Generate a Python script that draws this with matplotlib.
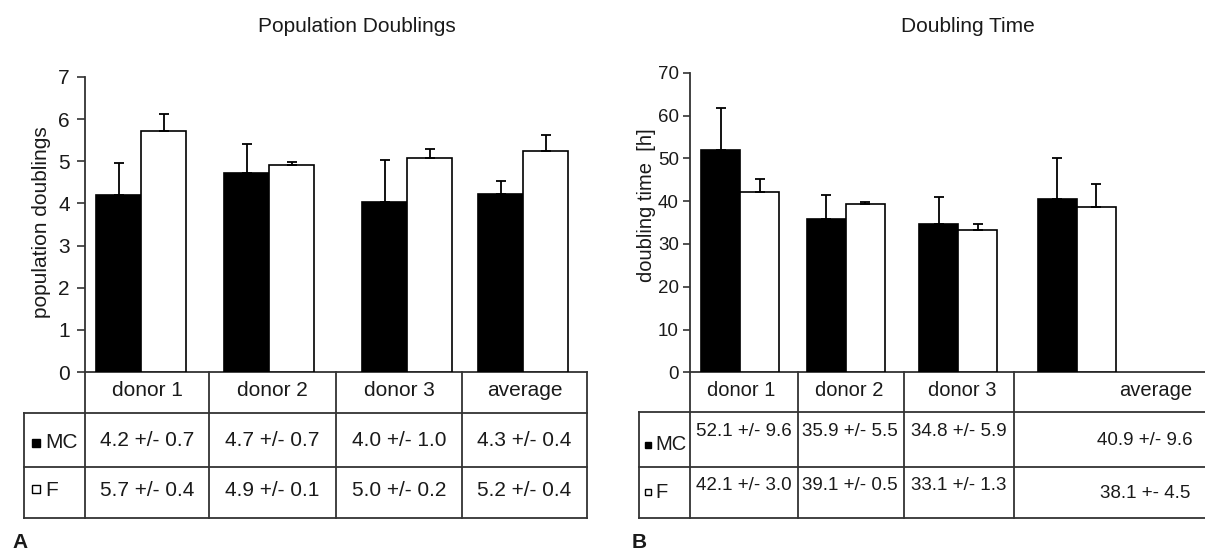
import matplotlib
matplotlib.use("Agg")
import matplotlib.pyplot as plt
import numpy as np

plt.rcParams['font.family'] = ['Liberation Sans', 'DejaVu Sans']

# data
groups = ['donor 1', 'donor 2', 'donor 3', 'average']

pd_mc = [4.2, 4.72, 4.03, 4.22]
pd_mc_err = [0.77, 0.70, 1.0, 0.32]
pd_f = [5.72, 4.91, 5.08, 5.25]
pd_f_err = [0.40, 0.07, 0.20, 0.37]
pd_mc_txt = ['4.2 +/- 0.7', '4.7 +/- 0.7', '4.0 +/- 1.0', '4.3 +/- 0.4']
pd_f_txt = ['5.7 +/- 0.4', '4.9 +/- 0.1', '5.0 +/- 0.2', '5.2 +/- 0.4']

dt_mc = [51.9, 35.9, 34.7, 40.4]
dt_mc_err = [9.8, 5.6, 6.2, 9.6]
dt_f = [42.05, 39.25, 33.2, 38.7]
dt_f_err = [3.0, 0.5, 1.4, 5.2]
dt_mc_txt = ['52.1 +/- 9.6', '35.9 +/- 5.5', '34.8 +/- 5.9', '40.9 +/- 9.6']
dt_f_txt = ['42.1 +/- 3.0', '39.1 +/- 0.5', '33.1 +/- 1.3', '38.1 +- 4.5']

W, H = 1205, 551
TXT = '#1a1a1a'
LN = '#333333'

fig = plt.figure(figsize=(W / 100, H / 100), dpi=100)

# overlay in pixel coords for the tables and loose text
ov = fig.add_axes([0, 0, 1, 1])
ov.set_xlim(0, W)
ov.set_ylim(H, 0)
ov.axis('off')


def line(x0, y0, x1, y1):
    ov.plot([x0, x1], [y0, y1], color=LN, lw=1.3, solid_capstyle='projecting')


def bar_panel(left, right, top, bottom, ymax, ticks, mc, mc_err, f, f_err,
              centers, bw, fs, tlen, tpad):
    ax = fig.add_axes([left / W, (H - bottom) / H, (right - left) / W, (bottom - top) / H])
    ax.set_xlim(0, right - left)
    ax.set_ylim(0, ymax)
    c = np.array(centers)
    ax.bar(c - bw / 2, mc, bw, color='black', edgecolor='black', lw=1.2)
    ax.bar(c + bw / 2, f, bw, color='white', edgecolor='black', lw=1.2)
    ax.errorbar(c - bw / 2, mc, yerr=[np.zeros(4), mc_err], fmt='none',
                ecolor='black', elinewidth=1.3, capsize=3.5, capthick=1.3)
    ax.errorbar(c + bw / 2, f, yerr=[np.zeros(4), f_err], fmt='none',
                ecolor='black', elinewidth=1.3, capsize=3.5, capthick=1.3)
    for s in ['top', 'right', 'bottom']:
        ax.spines[s].set_visible(False)
    ax.spines['left'].set_color(LN)
    ax.spines['left'].set_linewidth(1.3)
    ax.set_xticks([])
    ax.set_yticks(ticks)
    ax.tick_params(axis='y', labelsize=fs, length=tlen, pad=tpad, width=1.2,
                   color=LN, labelcolor=TXT)
    ax.patch.set_alpha(0)
    return ax


# panel A
axA = bar_panel(85, 587, 77, 372, 7, range(0, 8), pd_mc, pd_mc_err, pd_f, pd_f_err,
                [56, 184, 322, 438], 45, 15, 6, 5)
# panel B
axB = bar_panel(690, 1205, 72.7, 372.3, 70, range(0, 80, 10), dt_mc, dt_mc_err, dt_f, dt_f_err,
                [50.3, 155.7, 268.3, 386.7], 39, 13.5, 5, 3)

# titles, y labels, panel letters
ov.text(357, 27, 'Population Doublings', fontsize=15, color=TXT, ha='center', va='center')
ov.text(968, 27, 'Doubling Time', fontsize=15, color=TXT, ha='center', va='center')
ov.text(42, 222, 'population doublings', fontsize=15, color=TXT, rotation=90,
        ha='center', va='center')
ov.text(646, 205, 'doubling time  [h]', fontsize=14.5, color=TXT, rotation=90,
        ha='center', va='center')
ov.text(12, 543, 'A', fontsize=15, fontweight='bold', color=TXT, va='center')
ov.text(632, 543, 'B', fontsize=15, fontweight='bold', color=TXT, va='center')

# table A
cols = [85, 209, 336, 462, 587]
rows = [372, 412.7, 467.3, 517.7]
line(cols[0], rows[0], cols[-1], rows[0])
for y in rows[1:]:
    line(24, y, cols[-1], y)
for x in cols:
    line(x, rows[0], x, rows[-1])
line(24, rows[1], 24, rows[-1])
for i in range(4):
    cx = (cols[i] + cols[i + 1]) / 2
    ov.text(cx, 391, groups[i], fontsize=15, color=TXT, ha='center', va='center')
    ov.text(cx, 440, pd_mc_txt[i], fontsize=15, color=TXT, ha='center', va='center')
    ov.text(cx, 491, pd_f_txt[i], fontsize=15, color=TXT, ha='center', va='center')
ov.plot(35.5, 442.5, 's', ms=5.5, mfc='black', mec='black')
ov.plot(35.5, 489, 's', ms=5.5, mfc='white', mec='black', mew=1)
ov.text(45, 443, 'MC', fontsize=15, color=TXT, va='center')
ov.text(45, 491, 'F', fontsize=15, color=TXT, va='center')

# table B
colsB = [690, 797.7, 904, 1013.7, 1215]
rowsB = [372.3, 412.3, 467.3, 518.3]
line(colsB[0], rowsB[0], W + 5, rowsB[0])
for y in rowsB[1:]:
    line(638.7, y, W + 5, y)
for x in colsB:
    line(x, rowsB[0], x, rowsB[-1])
line(638.7, rowsB[1], 638.7, rowsB[-1])
hx = [741, 849, 962, 1155.5]
vx = [743.7, 850, 958.7, 1145.3]
for i in range(4):
    ov.text(hx[i], 390, groups[i], fontsize=14.5, color=TXT, ha='center', va='center')
    mcy, fy = (432, 485.5) if i < 3 else (440.5, 494)
    ov.text(vx[i], mcy, dt_mc_txt[i], fontsize=13.5, color=TXT, ha='center', va='center')
    ov.text(vx[i], fy, dt_f_txt[i], fontsize=13.5, color=TXT, ha='center', va='center')
ov.plot(648, 445, 's', ms=5, mfc='black', mec='black')
ov.plot(647.5, 491.5, 's', ms=5, mfc='white', mec='black', mew=1)
ov.text(655, 445, 'MC', fontsize=14.5, color=TXT, va='center')
ov.text(655, 492, 'F', fontsize=14.5, color=TXT, va='center')

fig.savefig('out.png', dpi=100)
